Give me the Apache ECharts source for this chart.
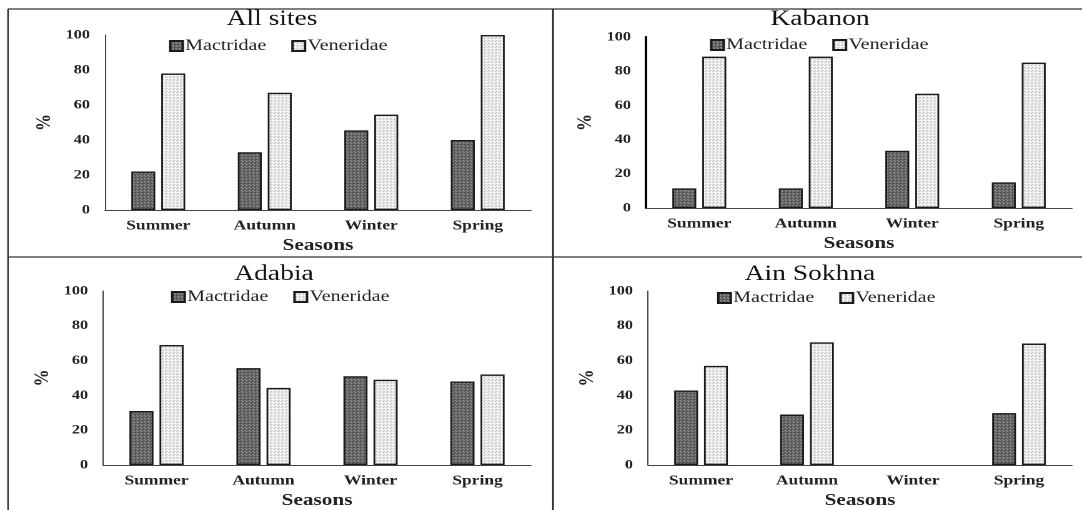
<!DOCTYPE html>
<html>
<head>
<meta charset="utf-8">
<script src="https://cdn.jsdelivr.net/npm/echarts@6/dist/echarts.min.js"></script>
<style>
html,body{margin:0;padding:0;background:#fff;overflow:hidden;}
#c{width:866px;height:510px;transform:scaleX(1.249423);transform-origin:0 0;}
</style>
</head>
<body>
<div id="c"></div>
<script>
// ---------- data ----------
const seasons = ['Summer', 'Autumn', 'Winter', 'Spring'];
const panelTitles = ['All sites', 'Kabanon', 'Adabia', 'Ain Sokhna'];
const seriesNames = ['Mactridae', 'Veneridae'];
const yTicks = [0, 20, 40, 60, 80, 100];

const allSitesMactridae = [22, 33, 45.5, 40];
const allSitesVeneridae = [78, 67, 54.5, 100];
const kabanonMactridae = [11.5, 11.5, 33.5, 15];
const kabanonVeneridae = [88.5, 88.5, 66.8, 85];
const adabiaMactridae = [31, 55.7, 51, 48];
const adabiaVeneridae = [69, 44.3, 49, 52];
const ainSokhnaMactridae = [42.8, 29, null, 29.8];   // no record in winter
const ainSokhnaVeneridae = [57, 70.5, null, 69.8];

// ---------- layout helpers (page is stretched horizontally by S) ----------
const S = 1082 / 866;
const X = v => v / S;
const FONT = 'Liberation Serif';

function pattern(base, dot, pts) {
  const c = document.createElement('canvas');
  c.width = 3; c.height = 3;
  const g = c.getContext('2d');
  g.fillStyle = base; g.fillRect(0, 0, 3, 3);
  g.fillStyle = dot;
  pts.forEach(p => g.fillRect(p[0], p[1], 1, 1));
  return { image: c, repeat: 'repeat' };
}
const darkPat = pattern('#525252', '#c0c0c0', [[1, 1], [2, 2]]);
const lightPat = pattern('#fbfbfb', '#9c9c9c', [[1, 1], [0, 2]]);

const panels = [
  { title: panelTitles[0], m: allSitesMactridae, v: allSitesVeneridae,
    grid: { l: 105, r: 531, t: 35, b: 210 }, titleX: 272, titleTop: 8, legX: 169, legTop: 38, yW: 1, yC: '#444' },
  { title: panelTitles[1], m: kabanonMactridae, v: kabanonVeneridae,
    grid: { l: 646, r: 1072, t: 37, b: 208 }, titleX: 820, titleTop: 8, legX: 710, legTop: 37, yW: 2, yC: '#000' },
  { title: panelTitles[2], m: adabiaMactridae, v: adabiaVeneridae,
    grid: { l: 103, r: 531, t: 291, b: 465 }, titleX: 274, titleTop: 263, legX: 171, legTop: 289, yW: 1, yC: '#444' },
  { title: panelTitles[3], m: ainSokhnaMactridae, v: ainSokhnaVeneridae,
    grid: { l: 648, r: 1072, t: 291, b: 466 }, titleX: 810, titleTop: 263, legX: 717, legTop: 290, yW: 1, yC: '#444' }
];

const option = {
  backgroundColor: '#fff',
  animation: false,
  title: [], legend: [], grid: [], xAxis: [], yAxis: [], series: [],
  graphic: [
    { type: 'line', shape: { x1: X(8), y1: 9, x2: 866, y2: 9 }, style: { stroke: '#333', lineWidth: 1.2 } },
    { type: 'line', shape: { x1: X(8), y1: 9, x2: X(8), y2: 510 }, style: { stroke: '#333', lineWidth: 1.2 } },
    { type: 'line', shape: { x1: X(553), y1: 9, x2: X(553), y2: 510 }, style: { stroke: '#222', lineWidth: 1.4 } },
    { type: 'line', shape: { x1: X(8), y1: 257, x2: 866, y2: 257 }, style: { stroke: '#333', lineWidth: 1.2 } }
  ]
};

panels.forEach((p, i) => {
  option.title.push({
    text: p.title, left: X(p.titleX), top: p.titleTop, textAlign: 'center', padding: 0,
    textStyle: { fontFamily: FONT, fontSize: 22, fontWeight: 'normal', color: '#111' }
  });
  option.legend.push({
    data: seriesNames, left: X(p.legX), top: p.legTop, itemWidth: 10, itemHeight: 10,
    itemGap: 20, padding: 0, icon: 'rect',
    textStyle: { fontFamily: FONT, fontSize: 16, color: '#222', padding: [0, 0, 0, -3] }
  });
  option.grid.push({ left: X(p.grid.l), width: X(p.grid.r - p.grid.l), top: p.grid.t, height: p.grid.b - p.grid.t });
  option.xAxis.push({
    type: 'category', gridIndex: i, data: seasons,
    axisLine: { lineStyle: { color: '#444', width: 1 } }, axisTick: { show: false },
    axisLabel: { fontFamily: FONT, fontSize: 14, fontWeight: 'bold', color: '#222', margin: 9 },
    name: 'Seasons', nameLocation: 'middle', nameGap: 27,
    nameTextStyle: { fontFamily: FONT, fontSize: 17, fontWeight: 'bold', color: '#222' }
  });
  option.yAxis.push({
    type: 'value', gridIndex: i, min: yTicks[0], max: yTicks[yTicks.length - 1], interval: 20,
    axisLine: { show: true, lineStyle: { color: p.yC, width: p.yW } }, axisTick: { show: false },
    splitLine: { show: false },
    axisLabel: { fontFamily: FONT, fontSize: 13, fontWeight: 'bold', color: '#222', margin: 12 },
    name: '%', nameLocation: 'middle', nameRotate: 90, nameGap: 40,
    nameTextStyle: { fontFamily: FONT, fontSize: 17, fontWeight: 'bold', color: '#222' }
  });
  [p.m, p.v].forEach((vals, k) => {
    option.series.push({
      type: 'bar', name: seriesNames[k], xAxisIndex: i, yAxisIndex: i, data: vals,
      barWidth: '22.5%', barGap: '25%',
      itemStyle: { color: k === 0 ? darkPat : lightPat, borderColor: '#1a1a1a', borderWidth: 1.4 }
    });
  });
});

const chart = echarts.init(document.getElementById('c'), null, { renderer: 'canvas', devicePixelRatio: 2 });
chart.setOption(option);
</script>
</body>
</html>
